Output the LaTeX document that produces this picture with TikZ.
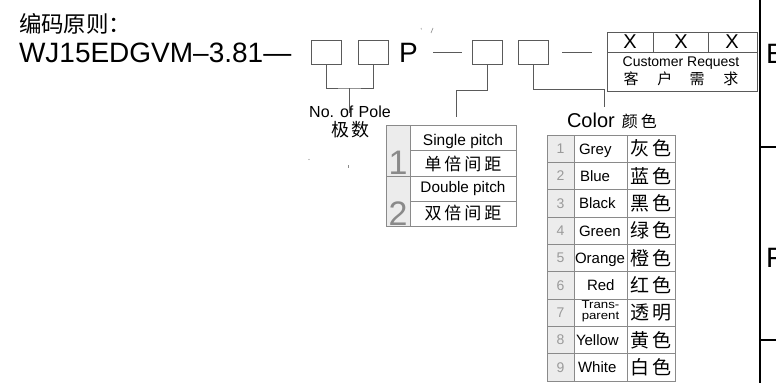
\documentclass[tikz,border=0pt]{standalone}
\usepackage{fontspec}
\setmainfont{Liberation Sans}
\newfontfamily\cjk{Noto Sans CJK SC}
\newcommand\fsz[1]{\fontsize{#1}{#1}\selectfont}
\definecolor{boxc}{HTML}{5A5A5A}
\definecolor{tabc}{HTML}{8A8A8A}
\definecolor{cellg}{HTML}{ECECEC}
\definecolor{numc}{HTML}{9A9A9A}
\begin{document}
\begin{tikzpicture}[x=1pt,y=-1pt,
  every node/.style={inner sep=0pt,outer sep=0pt},
  slot/.style={draw=boxc,line width=0.9pt,minimum width=30pt,minimum height=24pt},
  lnk/.style={draw=boxc,line width=0.9pt},
  tab/.style={draw=tabc,line width=0.8pt},
  en/.style={font=\fsz{15}},
  zh/.style={font=\cjk\fsz{19}},
  num/.style={font=\fsz{14},text=numc}]
\useasboundingbox (0,0) rectangle (776,383);
\fill[white] (0,0) rectangle (776,383);

% title and code
\node[anchor=base west,font=\cjk\fsz{22.5}] (title) at (19,32) {编码原则：};
\node[anchor=base west,font=\fsz{28}] (code) at (19,62) {WJ15EDGVM–3.81—};
\node[slot] (b1) at (326,52.5) {};
\node[slot] (b2) at (373,52.5) {};
\node[anchor=base west,font=\fsz{28}] (P) at (399,62) {P};
\coordinate (d1a) at (433,52); \coordinate (d1b) at (462,52);
\draw[lnk] (d1a) -- (d1b);
\node[slot] (b3) at (487,52.5) {};
\node[slot] (b4) at (533.5,52.5) {};
\coordinate (d2a) at (562,52); \coordinate (d2b) at (592,52);
\draw[lnk] (d2a) -- (d2b);

% stray marks
\draw[tabc,line width=0.6pt] (421,28) -- (421.4,29.5);
\draw[tabc,line width=0.6pt] (431,33) -- (433,28);
\fill[tabc] (309,159.5) circle (0.6);
\draw[tabc,line width=0.7pt] (348,165) -- (348,167.5);

% customer request box
\node[draw=boxc,line width=0.9pt,minimum width=150pt,minimum height=59pt] (cr) at (682,61.5) {};
\draw[lnk] (607,52) -- (757,52);
\draw[lnk] (653,32) -- (653,52);
\draw[lnk] (708,32) -- (708,52);
\node[font=\fsz{20}] (x1) at (630,42) {X};
\node[font=\fsz{20}] (x2) at (681,42) {X};
\node[font=\fsz{20}] (x3) at (732,42) {X};
\node[anchor=base,font=\fsz{14}] (crt) at (681,66.7) {Customer Request};
\node[anchor=base,font=\cjk\fsz{15}] (crz) at (681,84) {客\hspace{19pt}户\hspace{17pt}需\hspace{19pt}求};

% pole bracket
\coordinate (j1) at (349,88);
\node[anchor=base,font=\fsz{16}] (pole) at (350,117.5) {No. of\,\,Pole};
\node[anchor=base,font=\cjk\fsz{18}] (polez) at (350,136) {极\hspace{2pt}数};
\coordinate (j1e) at (349,113);
\draw[lnk] (b1.south) |- (j1) -| (b2.south);
\draw[lnk] (j1) -- (j1e);

% pitch bracket
\coordinate (j3) at (456,90); \coordinate (j3e) at (456,117);
\draw[lnk] (b3.south) |- (j3) -- (j3e);

% color bracket
\coordinate (j4) at (604,89); \coordinate (j4e) at (604,107);
\draw[lnk] (b4.south) |- (j4) -- (j4e);
\node[anchor=base west,font=\fsz{20}] (colt) at (567,127) {Color\hspace{7pt}{\cjk\fsz{16}颜\hspace{3pt}色}};

% pitch table
\fill[cellg] (386,125) rectangle (410,226);
\draw[tab] (386,125) rectangle (516,226);
\draw[tab] (410,125) -- (410,226);
\draw[tab] (410,150.5) -- (516,150.5);
\draw[tab] (386,176) -- (516,176);
\draw[tab] (410,201) -- (516,201);
\node[font=\fsz{34},text=tabc] (p1) at (398,163) {1};
\node[font=\fsz{34},text=tabc] (p2) at (398,213.5) {2};
\node[anchor=base,font=\fsz{15.5}] (s1) at (463,145) {Single pitch};
\node[anchor=base,font=\cjk\fsz{17}] (s2) at (463,170) {单\hspace{3pt}倍\hspace{3pt}间\hspace{3pt}距};
\node[anchor=base,font=\fsz{15.3}] (s3) at (463,192) {Double pitch};
\node[anchor=base,font=\cjk\fsz{17}] (s4) at (463,219.5) {双\hspace{3pt}倍\hspace{3pt}间\hspace{3pt}距};

% color table
\fill[cellg] (547,135) rectangle (574,381);
\draw[tab] (547,135) rectangle (675,381);
\draw[tab] (574,135) -- (574,381);
\draw[tab] (627,135) -- (627,381);
\foreach \i in {1,...,8}{
  \draw[tab] (547,135+27.33*\i) -- (675,135+27.33*\i);
}
\foreach \i/\e/\xe/\z in {1/Grey/579/灰,2/Blue/580/蓝,3/Black/579/黑,4/Green/579/绿,5/Orange/575/橙,6/Red/587/红,8/Yellow/576/黄,9/White/578/白}{
  \pgfmathsetmacro\yc{135+27.33*(\i-0.5)}
  \node[num,anchor=base] (n\i) at (560.5,\yc+5) {\i};
  \node[en,anchor=base west] (e\i) at (\xe,\yc+5.4) {\e};
  \node[zh] (z\i) at (651,\yc) {\z\hspace{3pt}色};
}
\pgfmathsetmacro\yc{135+27.33*6.5}
\node[num,anchor=base] (n7) at (560.5,\yc+5) {7};
\node[anchor=base,font=\fsz{11.5}] (e7a) at (600.5,308.5) {\scalebox{1.15}[1]{Trans-}};
\node[anchor=base,font=\fsz{11.5}] (e7b) at (600.5,319.5) {\scalebox{1.15}[1]{parent}};
\node[zh] (z7) at (651,\yc) {透\hspace{3pt}明};

% right edge
\draw[line width=2pt] (760,0) -- (760,383);
\draw[line width=1.5pt] (760,147) -- (776,147);
\draw[line width=1.5pt] (760,340) -- (776,340);
\node[anchor=base west,font=\fsz{28}] (E) at (766,63) {E};
\node[anchor=base west,font=\fsz{28}] (F) at (766,267) {F};
\end{tikzpicture}
\end{document}
